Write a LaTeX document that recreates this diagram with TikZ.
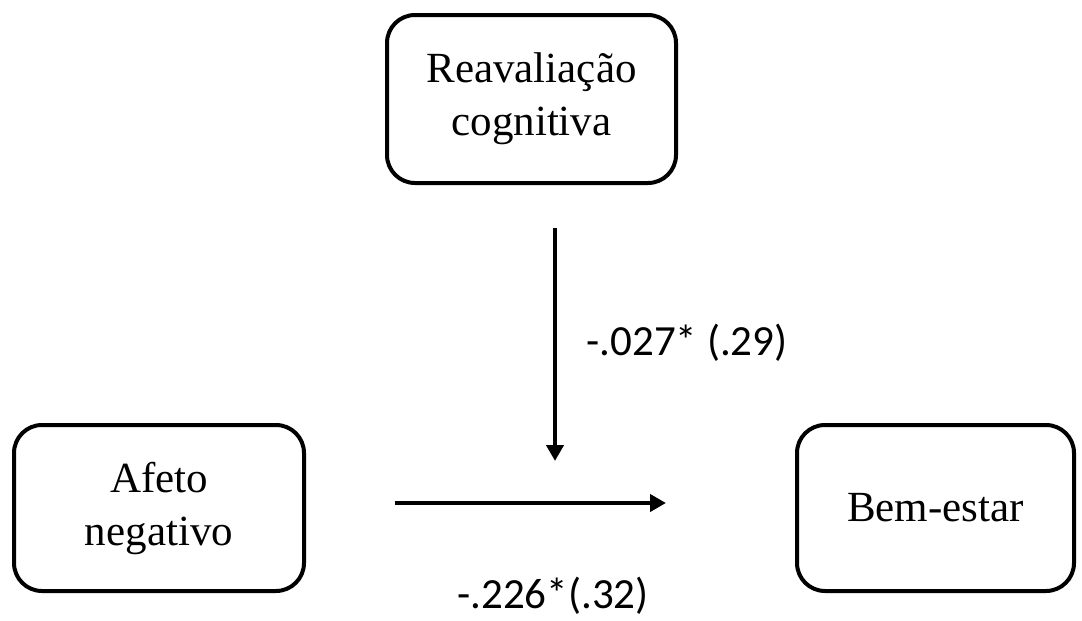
\documentclass[tikz,border=0pt]{standalone}
\usepackage{fontspec}
\setmainfont{Liberation Serif}
\newfontfamily\coeffont{Carlito}
\usetikzlibrary{arrows.meta}

\begin{document}
\begin{tikzpicture}[x=1pt,y=1pt,yscale=-1,
  varbox/.style={draw, line width=4pt, rounded corners=28pt, align=center, inner sep=0pt,
    font=\fontsize{43}{53}\selectfont},
  effarrow/.style={line width=4pt, -{Triangle[width=17pt,length=16pt]}},
  coef/.style={inner sep=0pt, font=\coeffont\fontsize{43}{52}\selectfont}]
\useasboundingbox (0,0) rectangle (1082,621);

%Shape: Rounded Rect (moderator)
\node [varbox, minimum width=289pt, minimum height=168pt] (reav) at (531.5,99) {Reavaliação\\cognitiva};
%Shape: Rounded Rect (predictor)
\node [varbox, minimum width=290pt, minimum height=166pt] (afeto) at (159,508) {Afeto\\negativo};
%Shape: Rounded Rect (outcome)
\node [varbox, minimum width=277pt, minimum height=166pt] (bem) at (935.5,508) {Bem-estar};

%Straight Lines
\coordinate (modstart) at (555,228);
\coordinate (modend) at (555,461);
\draw [effarrow] (modstart) -- (modend);
\coordinate (effstart) at (395,503);
\coordinate (effend) at (666,503);
\draw [effarrow] (effstart) -- (effend);

% Text Node
\node [coef] (modcoef) at (687,343) {-.027* (.29)};
% Text Node
\node [coef] (effcoef) at (553,596) {-.226*(.32)};

\end{tikzpicture}
\end{document}
